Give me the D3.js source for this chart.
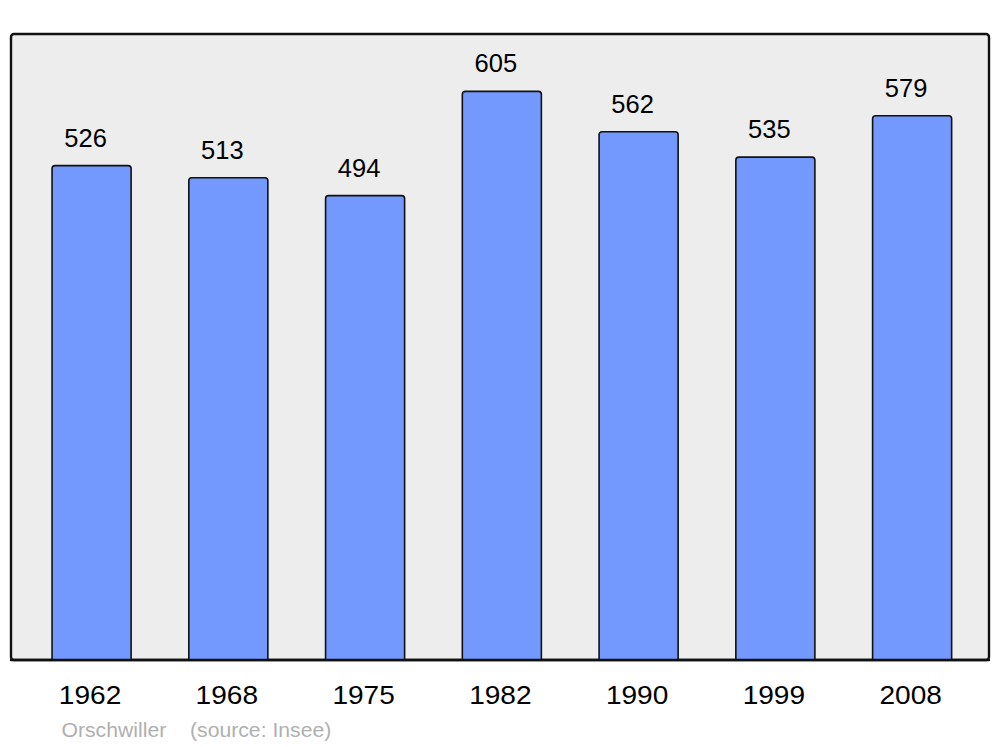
<!DOCTYPE html>
<html><head><meta charset="utf-8">
<script src="https://cdn.jsdelivr.net/npm/d3@7"></script>
<style>body{margin:0;background:#fff;} svg{display:block;}</style>
</head><body>
<svg id="c" width="1000" height="747"></svg>
<script>
const years = ["1962","1968","1975","1982","1990","1999","2008"];
const population = [526, 513, 494, 605, 562, 535, 579];
const footerTexts = ["Orschwiller", "(source: Insee)"];

const svg = d3.select("#c");
const font = "'Liberation Sans', Arial, sans-serif";

const panel = {x0: 11, x1: 989, y0: 34, y1: 660};

svg.append("rect")
  .attr("x", panel.x0).attr("y", panel.y0)
  .attr("width", panel.x1 - panel.x0).attr("height", panel.y1 - panel.y0)
  .attr("rx", 3).attr("ry", 3)
  .attr("fill", "#ededed").attr("stroke", "#111").attr("stroke-width", 2.4);

const x = d3.scaleBand().domain(years)
  .range([23.2, 980.5]).paddingInner(0.422).paddingOuter(0.211);
const y = d3.scaleLinear().domain([0, 666]).range([panel.y1, panel.y0]);

const data = years.map((yr, i) => ({yr, v: population[i]}));

svg.append("g").selectAll("path").data(data).join("path")
  .attr("d", d => {
    const x0 = x(d.yr), x1 = x0 + x.bandwidth(), t = y(d.v), b = y(0), r = 3;
    return `M${x0},${b} V${t + r} Q${x0},${t} ${x0 + r},${t} H${x1 - r} Q${x1},${t} ${x1},${t + r} V${b}`;
  })
  .attr("fill", "#7399ff").attr("stroke", "#111").attr("stroke-width", 1.6);

svg.append("line").attr("x1", panel.x0).attr("x2", panel.x1)
  .attr("y1", panel.y1).attr("y2", panel.y1)
  .attr("stroke", "#111").attr("stroke-width", 2.4).attr("stroke-linecap", "round");

svg.append("g").selectAll("text").data(data).join("text")
  .attr("transform", d => `translate(${x(d.yr) + x.bandwidth() / 2 - 6},${y(d.v) - 19}) scale(1.02,1)`)
  .attr("text-anchor", "middle")
  .attr("font-family", font).attr("font-size", 25)
  .attr("fill", "#000")
  .text(d => d.v);

svg.append("g").selectAll("text").data(years).join("text")
  .attr("transform", d => `translate(${x(d) + x.bandwidth() / 2 - 1.5},703.5) scale(1.08,1)`)
  .attr("text-anchor", "middle")
  .attr("font-family", font).attr("font-size", 26)
  .attr("fill", "#000")
  .text(d => d);

const footerX = [61.5, 190];
svg.append("g").selectAll("text").data(footerTexts).join("text")
  .attr("transform", (d, i) => `translate(${footerX[i]},737.3) scale(1.06,1)`)
  .attr("font-family", font).attr("font-size", 20)
  .attr("fill", "#b0b0b0")
  .text(d => d);
</script>
</body></html>
